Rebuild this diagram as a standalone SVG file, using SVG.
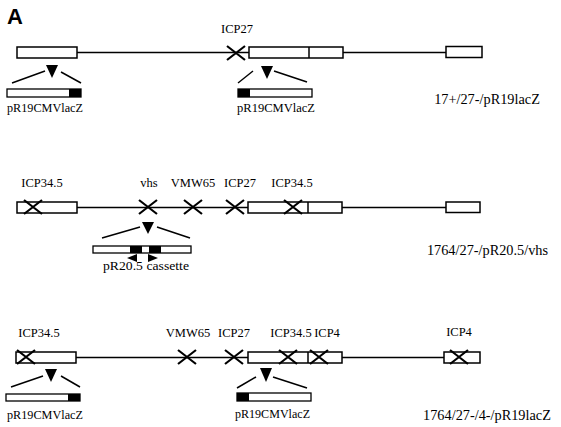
<svg xmlns="http://www.w3.org/2000/svg" width="561" height="427" viewBox="0 0 561 427">
<defs>
<style>
.ln{stroke:#000;stroke-width:1.5;fill:none}
.bx{stroke:#000;stroke-width:1.5;fill:#fff}
.cs{stroke:#000;stroke-width:1.3;fill:#fff}
.x{stroke:#000;stroke-width:2.2;fill:none}
.t{font-family:"Liberation Serif","Times New Roman",serif;font-size:12.5px;fill:#000}
.p{font-size:13.5px}
.r{font-size:14.3px}
.m{text-anchor:middle}
</style>
<symbol id="xm" overflow="visible"><path d="M-9,-7 L9,7 M-9,7 L9,-7" class="x"/></symbol>
</defs>
<rect width="561" height="427" fill="#fff"/>
<text x="7" y="24" font-family="Liberation Sans,Arial,sans-serif" font-weight="bold" font-size="22">A</text>

<g id="connectors">
<!-- row 1 -->
<line x1="77" y1="52.5" x2="249" y2="52.5" class="ln"/>
<line x1="343" y1="52.5" x2="446" y2="52.5" class="ln"/>
<line x1="12" y1="83" x2="45" y2="71" class="ln" stroke-width="2"/>
<line x1="61" y1="72" x2="81" y2="83" class="ln" stroke-width="2"/>
<line x1="238" y1="83" x2="253" y2="71" class="ln" stroke-width="2"/>
<line x1="274" y1="71" x2="307" y2="82" class="ln" stroke-width="2"/>
<!-- row 2 -->
<line x1="77" y1="207.5" x2="248" y2="207.5" class="ln"/>
<line x1="342" y1="207.5" x2="446" y2="207.5" class="ln"/>
<line x1="102" y1="238" x2="140" y2="227" class="ln" stroke-width="2"/>
<line x1="157" y1="227" x2="190" y2="238" class="ln" stroke-width="2"/>
<!-- row 3 -->
<line x1="76" y1="357.5" x2="248" y2="357.5" class="ln"/>
<line x1="342" y1="357.5" x2="444" y2="357.5" class="ln"/>
<line x1="11" y1="387" x2="43" y2="376" class="ln" stroke-width="2"/>
<line x1="61" y1="376" x2="80" y2="387" class="ln" stroke-width="2"/>
<line x1="237" y1="388" x2="256" y2="377" class="ln" stroke-width="2"/>
<line x1="273" y1="377" x2="307" y2="388" class="ln" stroke-width="2"/>
</g>

<g id="row1">
<rect x="17" y="47" width="60" height="11" class="bx"/>
<rect x="249" y="47" width="94" height="11" class="bx"/>
<line x1="309" y1="47" x2="309" y2="58" class="ln"/>
<rect x="446" y="46.5" width="36" height="11" class="bx"/>
<use href="#xm" x="236" y="53"/>
<text x="237" y="33" class="t m">ICP27</text>
<path d="M46,65 L58,65 L52,78 Z" fill="#000"/>
<rect x="7" y="89" width="74" height="8" class="cs"/>
<rect x="69" y="89" width="12" height="8" fill="#000"/>
<text x="7" y="112" class="t p" textLength="76" lengthAdjust="spacingAndGlyphs">pR19CMVlacZ</text>
<path d="M261,66 L273,66 L267,79 Z" fill="#000"/>
<rect x="238" y="89" width="74" height="8" class="cs"/>
<rect x="238" y="89" width="12" height="8" fill="#000"/>
<text x="237" y="112" class="t p" textLength="78" lengthAdjust="spacingAndGlyphs">pR19CMVlacZ</text>
<text x="487" y="104" class="t r m">17+/27-/pR19lacZ</text>
</g>

<g id="row2">
<rect x="17" y="202" width="60" height="11" class="bx"/>
<use href="#xm" x="33" y="207"/>
<text x="42" y="187" class="t m">ICP34.5</text>
<use href="#xm" x="148" y="207"/>
<text x="149" y="187" class="t m">vhs</text>
<use href="#xm" x="193" y="207"/>
<text x="193" y="187" class="t m">VMW65</text>
<use href="#xm" x="235" y="207"/>
<text x="240" y="187" class="t m">ICP27</text>
<rect x="248" y="202" width="94" height="11" class="bx"/>
<line x1="308" y1="202" x2="308" y2="213" class="ln"/>
<use href="#xm" x="293" y="207"/>
<text x="292" y="187" class="t m">ICP34.5</text>
<rect x="446" y="202" width="34" height="10.5" class="bx"/>
<path d="M142,222 L154,222 L148,234 Z" fill="#000"/>
<rect x="93" y="246" width="98" height="7" class="cs"/>
<rect x="130" y="246" width="12" height="7" fill="#000"/>
<rect x="149" y="246" width="12" height="7" fill="#000"/>
<path d="M137,254 L137,262 L127,258 Z" fill="#000"/>
<path d="M148,254 L148,262 L158,258 Z" fill="#000"/>
<text x="103" y="270" class="t p" textLength="86" lengthAdjust="spacingAndGlyphs">pR20.5 cassette</text>
<text x="487.5" y="255" class="t r m">1764/27-/pR20.5/vhs</text>
</g>

<g id="row3">
<rect x="16" y="352" width="60" height="11" class="bx"/>
<use href="#xm" x="26" y="357"/>
<text x="39" y="337" class="t m">ICP34.5</text>
<use href="#xm" x="187" y="357"/>
<text x="188" y="337" class="t m">VMW65</text>
<use href="#xm" x="234" y="357"/>
<text x="234" y="337" class="t m">ICP27</text>
<rect x="248" y="352" width="94" height="11" class="bx"/>
<line x1="308" y1="352" x2="308" y2="363" class="ln"/>
<use href="#xm" x="288" y="357"/>
<text x="291" y="337" class="t m">ICP34.5</text>
<use href="#xm" x="319" y="357"/>
<text x="327" y="337" class="t m">ICP4</text>
<rect x="444" y="352" width="36" height="11" class="bx"/>
<use href="#xm" x="459" y="357"/>
<text x="459" y="336" class="t m">ICP4</text>
<path d="M45,369 L57,369 L51,382 Z" fill="#000"/>
<rect x="6" y="394" width="74" height="7" class="cs"/>
<rect x="68" y="394" width="12" height="7" fill="#000"/>
<text x="7" y="419" class="t p" textLength="76" lengthAdjust="spacingAndGlyphs">pR19CMVlacZ</text>
<path d="M260,368 L272,368 L266,382 Z" fill="#000"/>
<rect x="237" y="393" width="74" height="8" class="cs"/>
<rect x="237" y="393" width="12" height="8" fill="#000"/>
<text x="235" y="418" class="t p" textLength="75" lengthAdjust="spacingAndGlyphs">pR19CMVlacZ</text>
<text x="487" y="420" class="t r m">1764/27-/4-/pR19lacZ</text>
</g>
</svg>
